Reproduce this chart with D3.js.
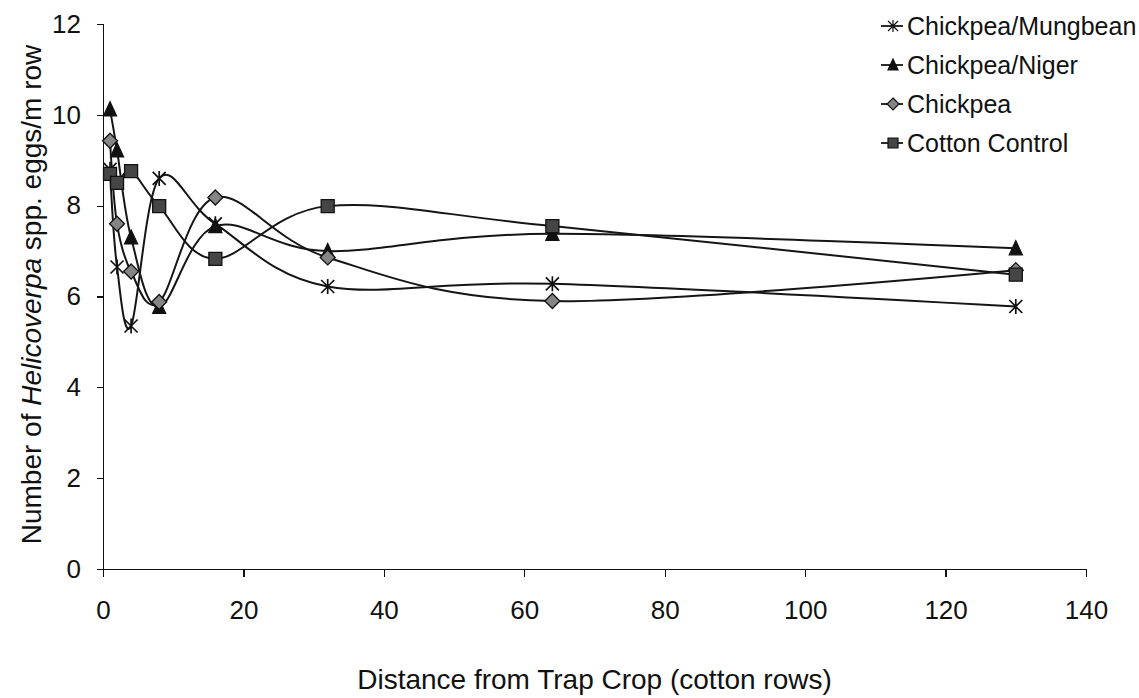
<!DOCTYPE html>
<meta charset="utf-8">
<style>
body { margin: 0; background: #fff; }
svg { display: block; font-family: "Liberation Sans", Arial, sans-serif; }
.axis path, .axis line { stroke: #111; stroke-width: 1.3; shape-rendering: crispEdges; }
.axis text { font-size: 26px; fill: #111; }
.series path.line { fill: none; stroke: #151515; stroke-width: 2; }
</style>
<body>
<script src="https://d3js.org/d3.v7.min.js"></script>
<script>

// data
const distances = [1, 2, 4, 8, 16, 32, 64, 130];
const mungbean = [8.8, 6.65, 5.35, 8.6, 7.6, 6.22, 6.28, 5.78];
const niger = [10.12, 9.22, 7.3, 5.77, 7.55, 7.0, 7.38, 7.06];
const chickpea = [9.43, 7.6, 6.55, 5.88, 8.18, 6.86, 5.9, 6.58];
const cotton = [8.7, 8.5, 8.76, 7.99, 6.83, 7.99, 7.55, 6.48];
const seriesNames = ["Chickpea/Mungbean", "Chickpea/Niger", "Chickpea", "Cotton Control"];
const xTickValues = [0, 20, 40, 60, 80, 100, 120, 140];
const yTickValues = [0, 2, 4, 6, 8, 10, 12];

var svg_size = {"width": 1139, "height": 698};
var plot = {"left": 103, "right": 1086, "top": 24, "bottom": 569};

var holder = d3.select("body")
	.append("svg")
	.attr("width", svg_size.width)
	.attr("height", svg_size.height);

var x = d3.scaleLinear().domain([0, 140]).range([plot.left, plot.right]);
var y = d3.scaleLinear().domain([0, 12]).range([plot.bottom, plot.top]);

// axes
holder.append("g")
	.attr("class", "axis")
	.attr("transform", "translate(0," + plot.bottom + ")")
	.call(d3.axisBottom(x).tickValues(xTickValues).tickSize(8).tickPadding(24));

holder.append("g")
	.attr("class", "axis")
	.attr("transform", "translate(" + plot.left + ",0)")
	.call(d3.axisLeft(y).tickValues(yTickValues).tickSize(6).tickPadding(16));

// axis titles
holder.append("text")
	.attr("x", (plot.left + plot.right) / 2)
	.attr("y", 689)
	.attr("text-anchor", "middle")
	.style("font-size", "28px")
	.style("fill", "#111")
	.text("Distance from Trap Crop (cotton rows)");

var ytitle = holder.append("text")
	.attr("transform", "translate(41," + ((plot.top + plot.bottom) / 2 - 2) + ") rotate(-90)")
	.attr("text-anchor", "middle")
	.style("font-size", "28px")
	.style("fill", "#111");
ytitle.append("tspan").text("Number of ");
ytitle.append("tspan").style("font-style", "italic").text("Helicoverpa");
ytitle.append("tspan").text(" spp. eggs/m row");

// marker shapes (Excel style)
function marker(kind, s) {
	var p = d3.path(), h = s / 2;
	if (kind === "star") {
		p.moveTo(-h, -h); p.lineTo(h, h);
		p.moveTo(-h, h); p.lineTo(h, -h);
		p.moveTo(0, -h - 1); p.lineTo(0, h + 1);
	} else if (kind === "triangle") {
		p.moveTo(0, -h - 1); p.lineTo(h, h); p.lineTo(-h, h); p.closePath();
	} else if (kind === "diamond") {
		p.moveTo(0, -h - 1); p.lineTo(h + 1, 0); p.lineTo(0, h + 1); p.lineTo(-h - 1, 0); p.closePath();
	} else {
		p.rect(-h, -h, s, s);
	}
	return p.toString();
}

var series = [
	{name: seriesNames[0], values: mungbean, kind: "star", fill: "none"},
	{name: seriesNames[1], values: niger, kind: "triangle", fill: "#111"},
	{name: seriesNames[2], values: chickpea, kind: "diamond", fill: "#858585"},
	{name: seriesNames[3], values: cotton, kind: "square", fill: "#454545"}
];

var line = d3.line()
	.x(function(d) { return x(d[0]); })
	.y(function(d) { return y(d[1]); })
	.curve(d3.curveCardinal.tension(0));

var g = holder.selectAll("g.series")
	.data(series)
	.enter().append("g")
	.attr("class", "series");

g.append("path")
	.attr("class", "line")
	.attr("d", function(s) { return line(distances.map(function(d, i) { return [d, s.values[i]]; })); });

g.each(function(s) {
	d3.select(this).selectAll("path.mark")
		.data(distances.map(function(d, i) { return [d, s.values[i]]; }))
		.enter().append("path")
		.attr("class", "mark")
		.attr("transform", function(d) { return "translate(" + x(d[0]) + "," + y(d[1]) + ")"; })
		.attr("d", marker(s.kind, 13))
		.style("fill", s.fill)
		.style("stroke", "#111")
		.style("stroke-width", s.kind === "star" ? 1.7 : 1.3);
});

// legend
var legend = holder.selectAll("g.legend")
	.data(series)
	.enter().append("g")
	.attr("class", "legend")
	.attr("transform", function(s, i) { return "translate(881," + (26 + i * 39) + ")"; });

legend.append("line")
	.attr("x1", 0).attr("x2", 22)
	.style("stroke", "#151515")
	.style("stroke-width", 1.8);

legend.append("path")
	.attr("transform", "translate(12,0)")
	.attr("d", function(s) { return marker(s.kind, 10); })
	.style("fill", function(s) { return s.fill; })
	.style("stroke", "#111")
	.style("stroke-width", 1.2);

legend.append("text")
	.attr("x", 26)
	.attr("dy", "0.35em")
	.style("font-size", "25px")
	.style("fill", "#111")
	.text(function(s) { return s.name; });

</script>
</body>
